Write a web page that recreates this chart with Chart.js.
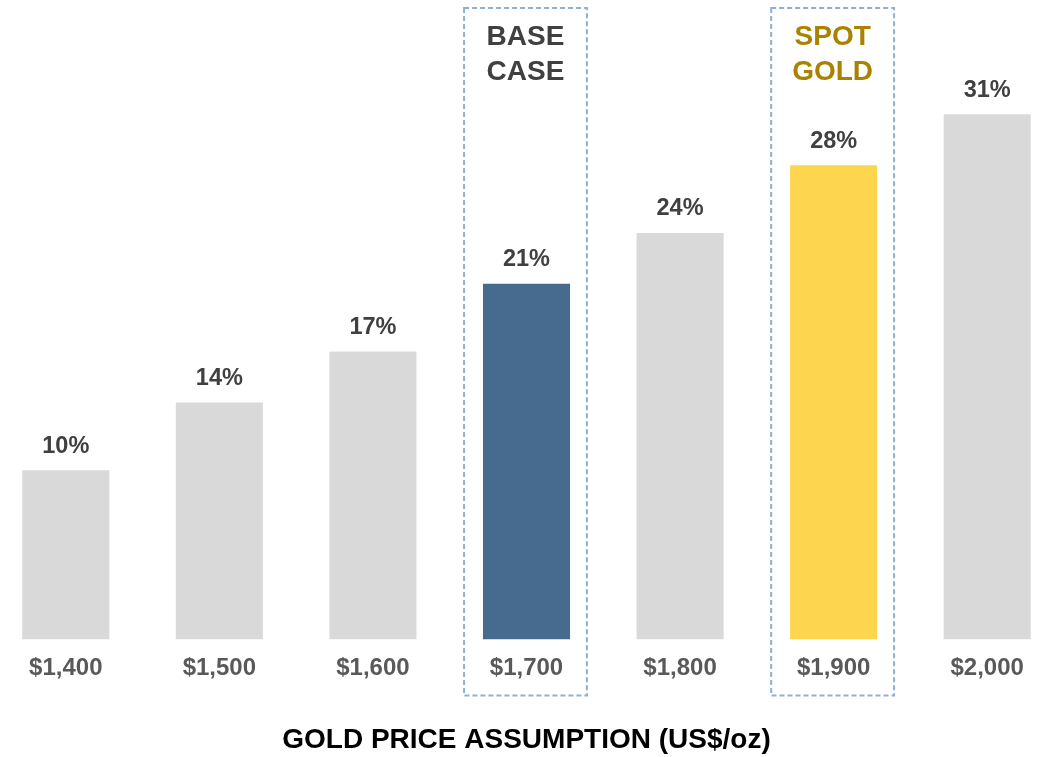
<!DOCTYPE html>
<html>
<head>
<meta charset="utf-8">
<script src="https://cdn.jsdelivr.net/npm/chart.js@4"></script>
<style>
  html, body { margin: 0; padding: 0; background: #fff; overflow: hidden; }
  #wrap { position: absolute; left: -11px; top: 0; width: 1075px; height: 757px; }
</style>
</head>
<body>
<div id="wrap"><canvas id="irrCanvas"></canvas></div>
<script>
const irrCanvas = document.getElementById("irrCanvas");

// gold price cases and after-tax IRR
const prices = ["$1,400", "$1,500", "$1,600", "$1,700", "$1,800", "$1,900", "$2,000"];
const irr = [10, 14, 17, 21, 24, 28, 31];
const barColors = ["#d9d9d9", "#d9d9d9", "#d9d9d9", "#466b8f", "#d9d9d9", "#fed54f", "#d9d9d9"];

// boxed cases: index, heading lines, heading colour
const highlights = [
  { index: 3, lines: ["BASE", "CASE"], color: "#404040" },
  { index: 5, lines: ["SPOT", "GOLD"], color: "#a98300" }
];

const FONT = "'Liberation Sans', Arial, sans-serif";

const labelsPlugin = {
  id: "irrLabels",
  afterDatasetsDraw(chart) {
    const ctx = chart.ctx;
    const meta = chart.getDatasetMeta(0);
    ctx.save();
    ctx.font = "bold 23.5px " + FONT;
    ctx.fillStyle = "#404040";
    ctx.textAlign = "center";
    ctx.textBaseline = "middle";
    meta.data.forEach((bar, i) => {
      ctx.fillText(irr[i] + "%", bar.x, bar.y - 24);
    });
    ctx.restore();
  },
  afterDraw(chart) {
    const ctx = chart.ctx;
    const x = chart.scales.x;
    const area = chart.chartArea;
    const half = (x.width / prices.length) * 0.4;
    ctx.save();
    highlights.forEach(h => {
      const cx = x.getPixelForValue(h.index) - 1;
      ctx.strokeStyle = "#8fb0d0";
      ctx.lineWidth = 2;
      ctx.setLineDash([5, 3]);
      ctx.strokeRect(cx - half, area.top + 8, half * 2, area.bottom - area.top + 48);
      ctx.setLineDash([]);
      ctx.font = "bold 28px " + FONT;
      ctx.fillStyle = h.color;
      ctx.textAlign = "center";
      ctx.textBaseline = "middle";
      h.lines.forEach((t, k) => ctx.fillText(t, cx, area.top + 37 + k * 35));
    });
    ctx.restore();
  }
};

const irrChart = new Chart(irrCanvas, {
  type: "bar",
  data: {
    labels: prices,
    datasets: [{
      data: irr,
      backgroundColor: barColors,
      borderWidth: 0,
      barPercentage: 0.567,
      categoryPercentage: 1
    }]
  },
  options: {
    responsive: true,
    maintainAspectRatio: false,
    animation: false,
    layout: { padding: { top: 0, left: 0, right: 0, bottom: 0 } },
    plugins: {
      legend: { display: false },
      tooltip: { enabled: false }
    },
    scales: {
      y: { display: false, min: 0, max: 37.75 },
      x: {
        grid: { display: false, drawTicks: false },
        border: { display: false },
        ticks: {
          color: "#595959",
          padding: 14,
          font: { family: FONT, size: 24, weight: "bold" }
        },
        title: {
          display: true,
          text: "GOLD PRICE ASSUMPTION (US$/oz)",
          color: "#000000",
          padding: { top: 27, bottom: 0 },
          font: { family: FONT, size: 28, weight: "bold" }
        }
      }
    }
  },
  plugins: [labelsPlugin]
});
</script>
</body>
</html>
